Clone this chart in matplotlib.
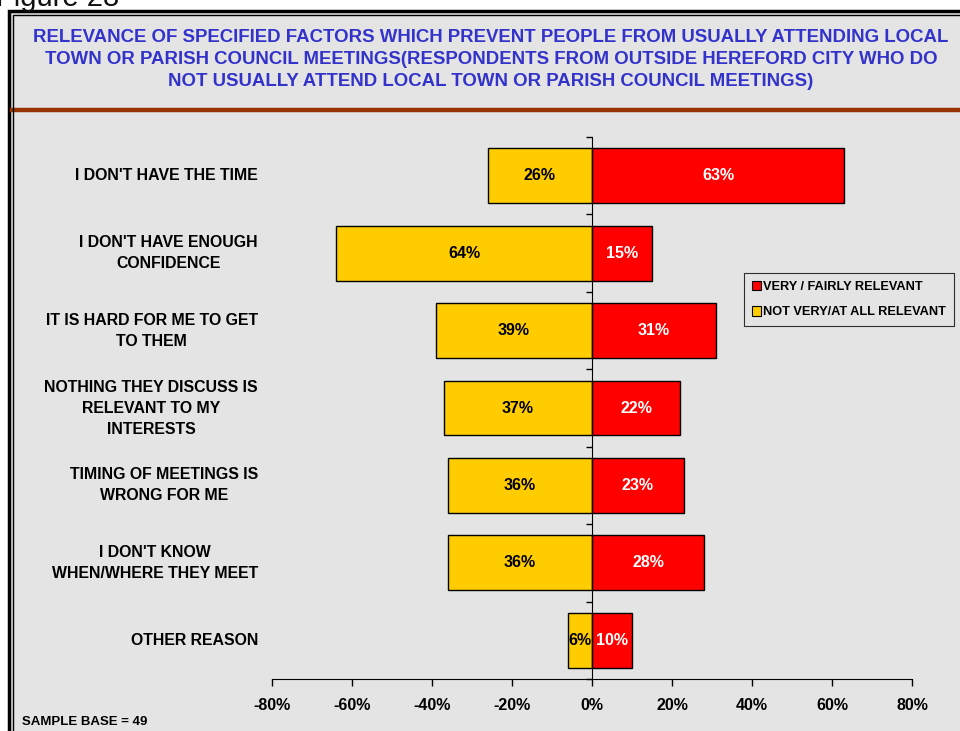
import matplotlib
matplotlib.use("Agg")
import matplotlib.pyplot as plt
from matplotlib.patches import Rectangle, Patch
from matplotlib.lines import Line2D

plt.rcParams['font.family'] = ['Liberation Sans', 'DejaVu Sans']

categories = [
    "I DON'T HAVE THE TIME",
    "I DON'T HAVE ENOUGH\nCONFIDENCE",
    "IT IS HARD FOR ME TO GET\nTO THEM",
    "NOTHING THEY DISCUSS IS\nRELEVANT TO MY\nINTERESTS",
    "TIMING OF MEETINGS IS\nWRONG FOR ME",
    "I DON'T KNOW\nWHEN/WHERE THEY MEET",
    "OTHER REASON",
]
not_relevant = [26, 64, 39, 37, 36, 36, 6]
relevant = [63, 15, 31, 22, 23, 28, 10]
xticks = [-80, -60, -40, -20, 0, 20, 40, 60, 80]
series_names = ["VERY / FAIRLY RELEVANT", "NOT VERY/AT ALL RELEVANT"]
title_lines = [
    "RELEVANCE OF SPECIFIED FACTORS WHICH PREVENT PEOPLE FROM USUALLY ATTENDING LOCAL",
    "TOWN OR PARISH COUNCIL MEETINGS(RESPONDENTS FROM OUTSIDE HEREFORD CITY WHO DO",
    "NOT USUALLY ATTEND LOCAL TOWN OR PARISH COUNCIL MEETINGS)",
]

RED = '#FF0000'
YEL = '#FFCC00'
BG = '#E4E4E4'
W, H = 960, 731

fig = plt.figure(figsize=(W / 100, H / 100), dpi=100)
fig.patch.set_facecolor('white')

def fx(px):
    return px / W

def fy(py):
    return 1 - py / H

# framed panel
fig.patches.append(Rectangle((fx(9), fy(H + 20)), fx(W + 20), fy(11) - fy(H + 20),
                             transform=fig.transFigure, facecolor=BG, edgecolor='black',
                             linewidth=2.5, zorder=-2))
fig.patches.append(Rectangle((fx(13), fy(H + 20)), fx(W + 20), fy(14.5) - fy(H + 20),
                             transform=fig.transFigure, facecolor='none', edgecolor='black',
                             linewidth=1, zorder=-1))
fig.lines.append(Line2D([fx(12), 1], [fy(110), fy(110)], transform=fig.transFigure,
                        color='#993300', linewidth=3.2, zorder=-1))

fig.text(fx(-4), fy(6), "Figure 28", fontsize=21, color='#111111', ha='left', va='baseline')
for i, line in enumerate(title_lines):
    fig.text(fx(491), fy(38 + 22 * i), line, ha='center', va='center', fontsize=13.4,
             fontweight='bold', color='#3333CC')
fig.text(fx(22), fy(722), "SAMPLE BASE = 49", ha='left', va='center', fontsize=9.5,
         fontweight='bold')

ax = fig.add_axes([fx(272), fy(679), fx(912) - fx(272), fy(137) - fy(679)])
ax.set_facecolor('none')

y = list(range(len(categories)))
neg = [-v for v in not_relevant]
b_neg = ax.barh(y, neg, height=0.71, color=YEL, edgecolor='black', linewidth=1)
b_pos = ax.barh(y, relevant, height=0.71, color=RED, edgecolor='black', linewidth=1)
ax.bar_label(b_neg, labels=[f"{v}%" for v in not_relevant], label_type='center',
             fontsize=11.5, fontweight='bold', color='black')
ax.bar_label(b_pos, labels=[f"{v}%" for v in relevant], label_type='center',
             fontsize=11.5, fontweight='bold', color='white')

ax.set_xlim(-80, 80)
ax.set_ylim(len(categories) - 0.5, -0.5)
ax.set_xticks(xticks)
ax.set_xticklabels([f"{t}%" for t in xticks], fontsize=11.5, fontweight='bold')
ax.tick_params(axis='x', direction='out', length=5, width=1, pad=9)

ax.spines['left'].set_position(('data', 0))
ax.spines['right'].set_visible(False)
ax.spines['top'].set_visible(False)
ax.set_yticks([i - 0.5 for i in range(len(categories) + 1)])
ax.set_yticklabels([])
ax.tick_params(axis='y', direction='out', length=4, width=1)

trans = ax.get_yaxis_transform()
for i, c in enumerate(categories):
    ax.text(-0.022, i, c, transform=trans, ha='right', va='center', multialignment='center',
            fontsize=11.4, fontweight='bold', linespacing=1.5)

handles = [Patch(facecolor=RED, edgecolor='black', linewidth=0.8),
           Patch(facecolor=YEL, edgecolor='black', linewidth=0.8)]
leg = fig.legend(handles, series_names, loc='upper left',
                 bbox_to_anchor=(fx(744), fy(273)), frameon=True, fancybox=False,
                 prop={'size': 9.2, 'weight': 'bold'}, handlelength=0.75, handleheight=0.75,
                 handletextpad=0.15, borderpad=0.6, labelspacing=1.05, borderaxespad=0)
leg.get_frame().set_edgecolor('black')
leg.get_frame().set_linewidth(0.8)
leg.get_frame().set_facecolor('none')

fig.savefig('out.png', dpi=100)
